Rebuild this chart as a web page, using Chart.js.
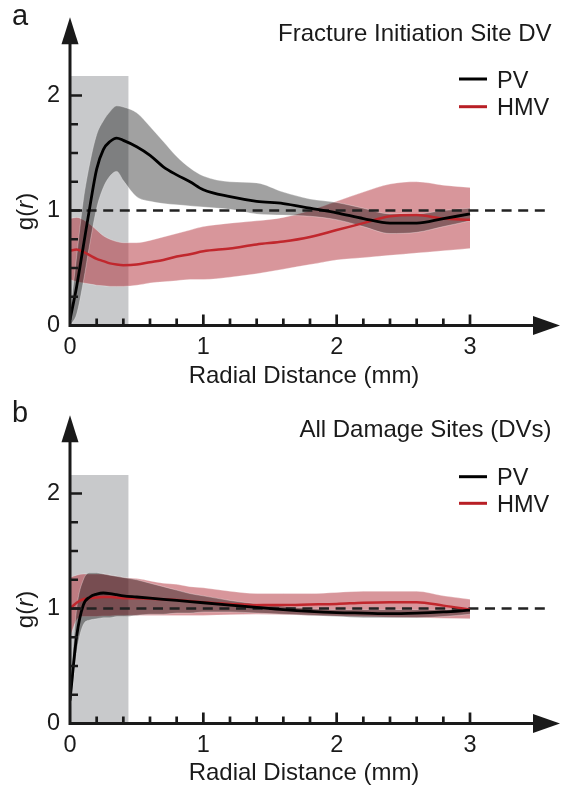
<!DOCTYPE html>
<html><head><meta charset="utf-8">
<script src="https://cdn.jsdelivr.net/npm/chart.js@4.4.1/dist/chart.umd.min.js"></script>
<style>
html,body{margin:0;padding:0;background:#fff;}
#wrap{position:relative;width:561px;height:787px;overflow:hidden;background:#fff;}
canvas{position:absolute;left:0;}
</style></head><body>
<div id="wrap">
<canvas id="ca" width="561" height="398" style="top:0px"></canvas>
<canvas id="cb" width="561" height="389" style="top:398px"></canvas>
</div>
<script>
// ---------- data ----------
const R = [0, 0.05, 0.1, 0.15, 0.2, 0.25, 0.3, 0.35, 0.4, 0.5, 0.6, 0.7, 0.8, 0.9, 1.0, 1.2, 1.4, 1.6, 1.8, 2.0, 2.2, 2.4, 2.6, 2.8, 3.0];

// Panel a: Fracture Initiation Site DV
const pvA    = [0.05, 0.34, 0.69, 1.04, 1.36, 1.53, 1.60, 1.63, 1.61, 1.555, 1.48, 1.38, 1.31, 1.25, 1.18, 1.12, 1.08, 1.06, 1.02, 0.98, 0.93, 0.89, 0.89, 0.93, 0.97];
const pvUpA  = [0.10, 0.60, 1.09, 1.42, 1.66, 1.78, 1.86, 1.91, 1.90, 1.85, 1.73, 1.60, 1.47, 1.37, 1.30, 1.25, 1.24, 1.16, 1.10, 1.07, 1.02, 0.97, 0.97, 1.00, 1.02];
const pvLoA  = [0.00, 0.10, 0.38, 0.72, 1.02, 1.20, 1.30, 1.34, 1.26, 1.12, 1.08, 1.06, 1.05, 1.04, 1.03, 1.01, 0.97, 0.96, 0.95, 0.92, 0.86, 0.80, 0.81, 0.86, 0.91];
const hmvA   = [0.65, 0.66, 0.64, 0.61, 0.58, 0.56, 0.54, 0.53, 0.525, 0.53, 0.55, 0.57, 0.60, 0.62, 0.645, 0.67, 0.705, 0.73, 0.77, 0.83, 0.89, 0.95, 0.96, 0.93, 0.92];
const hmvUpA = [0.93, 0.94, 0.92, 0.88, 0.83, 0.78, 0.75, 0.73, 0.72, 0.72, 0.74, 0.77, 0.80, 0.83, 0.86, 0.89, 0.91, 0.94, 1.00, 1.08, 1.16, 1.23, 1.25, 1.22, 1.20];
const hmvLoA = [0.40, 0.38, 0.37, 0.36, 0.35, 0.345, 0.34, 0.34, 0.34, 0.35, 0.37, 0.38, 0.39, 0.40, 0.40, 0.42, 0.45, 0.49, 0.53, 0.57, 0.59, 0.61, 0.63, 0.65, 0.67];

// Panel b: All Damage Sites (DVs)
const pvB    = [0.20, 0.76, 1.03, 1.10, 1.125, 1.135, 1.13, 1.12, 1.11, 1.10, 1.09, 1.08, 1.07, 1.06, 1.05, 1.03, 1.01, 0.99, 0.975, 0.965, 0.96, 0.955, 0.96, 0.97, 0.985];
const pvUpB  = [0.30, 1.00, 1.25, 1.31, 1.31, 1.30, 1.29, 1.28, 1.27, 1.25, 1.22, 1.19, 1.16, 1.13, 1.11, 1.07, 1.04, 1.02, 1.00, 0.99, 0.99, 0.99, 0.99, 0.99, 1.00];
const pvLoB  = [0.10, 0.62, 0.86, 0.90, 0.91, 0.92, 0.92, 0.93, 0.93, 0.94, 0.95, 0.95, 0.96, 0.96, 0.97, 0.97, 0.96, 0.95, 0.94, 0.93, 0.92, 0.92, 0.92, 0.93, 0.95];
const hmvB   = [1.00, 1.05, 1.08, 1.09, 1.095, 1.10, 1.10, 1.095, 1.09, 1.09, 1.085, 1.08, 1.075, 1.065, 1.055, 1.04, 1.03, 1.03, 1.035, 1.04, 1.05, 1.055, 1.055, 1.025, 0.99];
const hmvUpB = [1.27, 1.29, 1.30, 1.30, 1.30, 1.30, 1.29, 1.28, 1.27, 1.26, 1.24, 1.22, 1.21, 1.19, 1.18, 1.15, 1.13, 1.13, 1.13, 1.14, 1.15, 1.15, 1.15, 1.11, 1.08];
const hmvLoB = [0.75, 0.90, 0.93, 0.93, 0.93, 0.935, 0.935, 0.94, 0.94, 0.94, 0.94, 0.94, 0.94, 0.94, 0.94, 0.945, 0.95, 0.945, 0.94, 0.935, 0.93, 0.925, 0.92, 0.915, 0.91];

// shaded window, reference line, ticks
const SHADE_X = [0, 0.44];
const SHADE_A = [2.17, 2.17];
const SHADE_B = [2.16, 2.16];
const REF_X = [0, 3.59];
const REF_Y = [1, 1];
const X_TICKS = [0, 0.2, 0.4, 0.6, 0.8, 1, 1.2, 1.4, 1.6, 1.8, 2, 2.2, 2.4, 2.6, 2.8, 3];
const X_LABELS = [0, 1, 2, 3];
const Y_TICKS = [0, 0.25, 0.5, 0.75, 1, 1.25, 1.5, 1.75, 2];
const Y_LABELS = [0, 1, 2];
const SERIES = ['PV', 'HMV'];
const X_TIP = 3.675, Y_TIP = 2.68;

// ---------- chart ----------
const FONT = "'Liberation Sans', Arial, Helvetica, sans-serif";
const INK = '#1a1a1a';
const BLACK = '#000000', RED = '#c1272d';
const GRAY_BAND = 'rgba(0,0,0,0.37)', RED_BAND = 'rgba(177,45,55,0.5)';
const EDGE = 'rgba(255,255,255,0.3)';
Chart.defaults.font.family = FONT;
Chart.defaults.color = INK;

const pts = (xs, ys) => xs.map((x, i) => ({x: x, y: ys[i]}));
const isMajor = v => Math.abs(v - Math.round(v)) < 1e-9;

const decor = {
  id: 'decor',
  afterDraw(chart, args, o) {
    const {ctx} = chart;
    const x = chart.scales.x, y = chart.scales.y;
    const x0 = x.getPixelForValue(0), y0 = y.getPixelForValue(0);
    const xt = x.getPixelForValue(X_TIP), yt = y.getPixelForValue(Y_TIP);
    ctx.save();
    ctx.fillStyle = INK; ctx.strokeStyle = INK; ctx.lineCap = 'butt';
    ctx.lineWidth = 3;
    ctx.beginPath();
    ctx.moveTo(x0, y0 + 1.5); ctx.lineTo(x0, yt + 20);
    ctx.moveTo(x0 - 1.5, y0); ctx.lineTo(xt - 20, y0);
    ctx.stroke();
    ctx.beginPath();
    ctx.moveTo(x0, yt); ctx.lineTo(x0 + 8.5, yt + 27); ctx.lineTo(x0 - 8.5, yt + 27); ctx.closePath(); ctx.fill();
    ctx.beginPath();
    ctx.moveTo(xt, y0); ctx.lineTo(xt - 27, y0 - 9.5); ctx.lineTo(xt - 27, y0 + 9.5); ctx.closePath(); ctx.fill();
    ctx.lineWidth = 2.7;
    ctx.beginPath();
    Y_TICKS.forEach(v => { if (v === 0) return; const p = y.getPixelForValue(v); ctx.moveTo(x0, p); ctx.lineTo(x0 + (isMajor(v) ? 12 : 8), p); });
    X_TICKS.forEach(v => { if (v === 0) return; const p = x.getPixelForValue(v); ctx.moveTo(p, y0); ctx.lineTo(p, y0 - (isMajor(v) ? 11 : 7)); });
    ctx.stroke();

    // panel letter
    ctx.font = '29px ' + FONT; ctx.textAlign = 'left'; ctx.textBaseline = 'alphabetic';
    ctx.fillText(o.letter, 12, o.letterY);
    // title
    ctx.font = '24px ' + FONT; ctx.textAlign = 'right';
    ctx.fillText(o.title, 551.5, o.titleY);
    // legend
    ctx.font = '23.5px ' + FONT;
    ctx.textAlign = 'left';
    [BLACK, '#b81f25'].forEach((c, i) => {
      const ly = o.legY[i];
      ctx.strokeStyle = c; ctx.lineWidth = 3;
      ctx.beginPath(); ctx.moveTo(459, ly); ctx.lineTo(487, ly); ctx.stroke();
      ctx.fillStyle = INK;
      ctx.fillText(SERIES[i], 497, ly + 8.5);
    });
    // y-axis title g(r)
    ctx.save();
    ctx.translate(33, y.getPixelForValue(1) + 1);
    ctx.rotate(-Math.PI / 2);
    ctx.textBaseline = 'alphabetic'; ctx.fillStyle = INK;
    const nf = '24px ' + FONT, itf = 'italic 24px ' + FONT;
    ctx.font = nf; const w1 = ctx.measureText('g(').width, w3 = ctx.measureText(')').width;
    ctx.font = itf; const w2 = ctx.measureText('r').width;
    let sx = -(w1 + w2 + w3) / 2;
    ctx.font = nf; ctx.fillText('g(', sx, 0); sx += w1;
    ctx.font = itf; ctx.fillText('r', sx, 0); sx += w2;
    ctx.font = nf; ctx.fillText(')', sx, 0);
    ctx.restore();
    ctx.restore();
  }
};

function makeChart(id, d, o) {
  const canvas = document.getElementById(id);
  const H = canvas.height;
  const lineDs = (label, ys, color, w, order) => ({label, data: pts(R, ys), borderColor: color, borderWidth: w, pointRadius: 0, fill: false, order, cubicInterpolationMode: 'monotone'});
  const bandDs = (label, ys, color, fill, order) => ({label, data: pts(R, ys), borderColor: EDGE, borderWidth: 1, backgroundColor: color, pointRadius: 0, fill, order, cubicInterpolationMode: 'monotone'});
  return new Chart(canvas, {
    type: 'line',
    data: {
      datasets: [
        {label: 'window', data: pts(SHADE_X, d.shade), borderColor: 'transparent', borderWidth: 0, backgroundColor: '#c8c9cb', pointRadius: 0, fill: 'origin', order: 20, tension: 0},
        bandDs('HMV upper', d.hmvUp, RED_BAND, '+1', 12),
        bandDs('HMV lower', d.hmvLo, RED_BAND, false, 11),
        bandDs('PV upper', d.pvUp, GRAY_BAND, '+1', 10),
        bandDs('PV lower', d.pvLo, GRAY_BAND, false, 9),
        {label: 'g(r) = 1', data: pts(REF_X, REF_Y), borderColor: '#222', borderWidth: 2.6, borderDash: [10, 6.6], pointRadius: 0, fill: false, order: 5, clip: false, tension: 0},
        lineDs(SERIES[1], d.hmv, RED, 2.5, 4),
        lineDs(SERIES[0], d.pv, BLACK, 2.8, 3)
      ]
    },
    options: {
      responsive: false, animation: false, devicePixelRatio: 1, events: [],
      layout: {padding: {left: 0, right: 23, top: 49.5, bottom: 0}},
      plugins: {legend: {display: false}, tooltip: {enabled: false}, decor: o},
      scales: {
        x: {
          type: 'linear', min: 0, max: 3.51,
          grid: {display: false, drawTicks: false}, border: {display: false},
          afterBuildTicks: s => { s.ticks = X_LABELS.map(v => ({value: v})); },
          afterFit: s => { s.height = H - 325.5; },
          ticks: {font: {size: 23.5}, color: INK, padding: 8, maxRotation: 0, autoSkip: false, callback: v => String(v)},
          title: {display: true, text: 'Radial Distance (mm)', font: {size: 24}, color: INK, padding: {top: 0, bottom: o.xTitlePad}}
        },
        y: {
          type: 'linear', min: 0, max: 2.4,
          grid: {display: false, drawTicks: false}, border: {display: false},
          afterBuildTicks: s => { s.ticks = Y_LABELS.map(v => ({value: v})); },
          afterFit: s => { s.width = 70; },
          ticks: {font: {size: 23.5}, color: INK, padding: 10, callback: v => String(v)}
        }
      }
    },
    plugins: [decor]
  });
}

makeChart('ca', {shade: SHADE_A, pv: pvA, pvUp: pvUpA, pvLo: pvLoA, hmv: hmvA, hmvUp: hmvUpA, hmvLo: hmvLoA},
  {letter: 'a', letterY: 25, title: 'Fracture Initiation Site DV', titleY: 40.7, legY: [79, 106.7], xTitlePad: 7.5});
makeChart('cb', {shade: SHADE_B, pv: pvB, pvUp: pvUpB, pvLo: pvLoB, hmv: hmvB, hmvUp: hmvUpB, hmvLo: hmvLoB},
  {letter: 'b', letterY: 24, title: 'All Damage Sites (DVs)', titleY: 38.7, legY: [78.7, 105.3], xTitlePad: -1});
</script>
</body></html>
